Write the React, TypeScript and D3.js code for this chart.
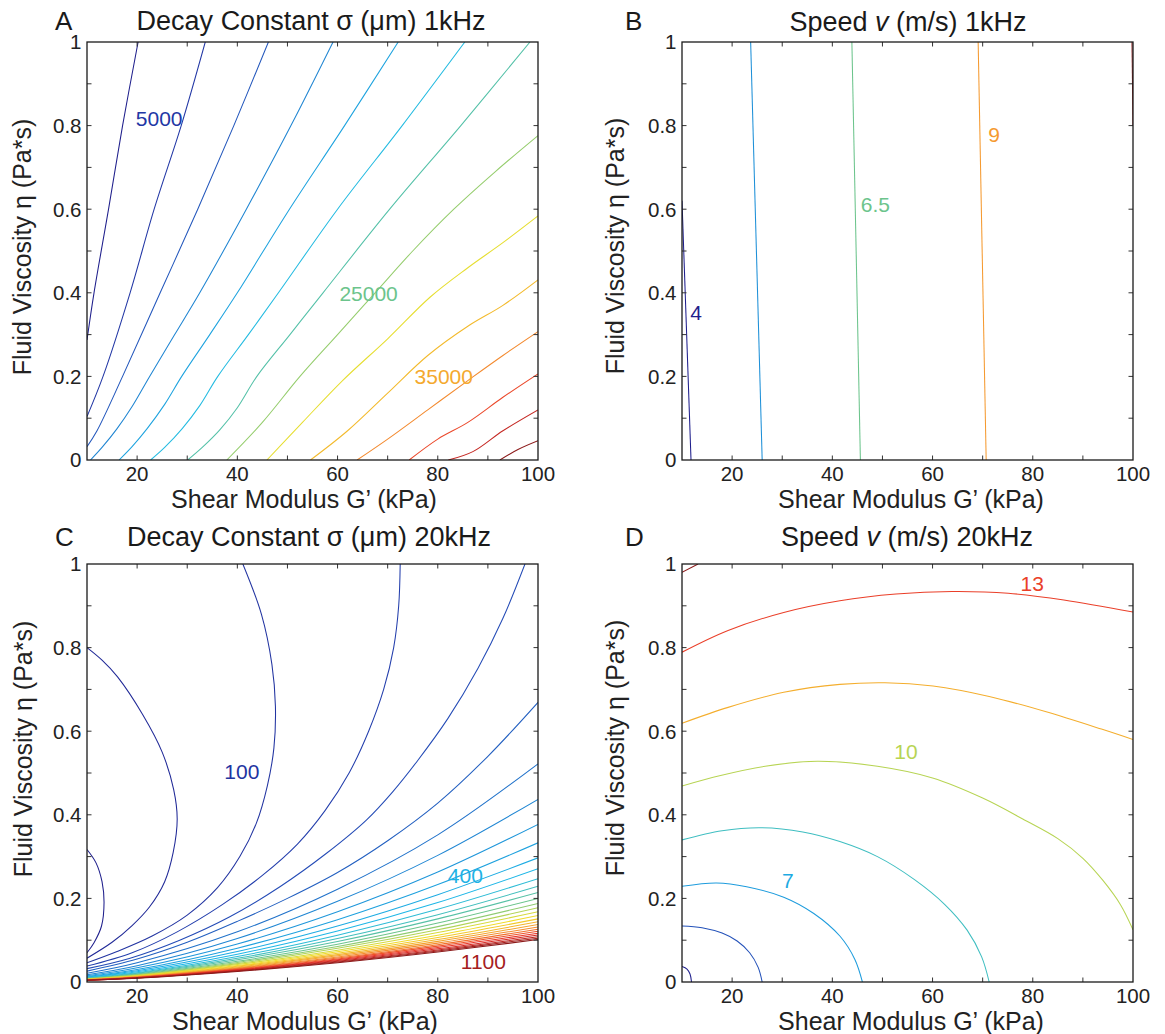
import React from 'react';
import * as d3 from 'd3';

type Pt = [number, number];
type Lbl = { text: string; g: number; eta: number; line: number };

// ---------- axis ticks ----------
const xTickValues = [20, 30, 40, 50, 60, 70, 80, 90];
const xTickLabels = [20, 40, 60, 80, 100];
const yTickValues = [0.1, 0.2, 0.3, 0.4, 0.5, 0.6, 0.7, 0.8, 0.9];
const yTickLabels = [0, 0.2, 0.4, 0.6, 0.8, 1];

// ---------- Panel A : decay constant, 1 kHz (G' kPa, eta Pa*s) ----------
const aLines: Pt[][] = [
  [[10, 0.287], [11.4, 0.4], [14.3, 0.6], [17.1, 0.8], [20.2, 1]],
  [[10, 0.104], [13.2, 0.2], [18.6, 0.4], [23.4, 0.6], [28.8, 0.8], [33.6, 1]],
  [[10, 0.032], [12, 0.07], [17.1, 0.2], [24.6, 0.4], [32.1, 0.6], [39.3, 0.8], [46.2, 1]],
  [[10.7, 0], [13, 0.03], [16, 0.075], [19, 0.128], [22.5, 0.2], [27.5, 0.3], [32.5, 0.4], [41.8, 0.6], [50.7, 0.8], [59.1, 1]],
  [[16.4, 0], [19, 0.032], [22, 0.075], [25.5, 0.133], [28.9, 0.2], [34.5, 0.3], [40, 0.4], [50.4, 0.6], [61.4, 0.8], [72.1, 1]],
  [[22.7, 0], [25.5, 0.03], [29, 0.075], [32.5, 0.13], [36.1, 0.2], [42.2, 0.3], [48.2, 0.4], [60, 0.6], [72.9, 0.8], [85.4, 1]],
  [[30.1, 0], [33, 0.03], [36.5, 0.072], [40, 0.125], [43.9, 0.2], [50.5, 0.3], [57.1, 0.4], [70.4, 0.6], [84.6, 0.8], [98.4, 1]],
  [[37.9, 0], [45, 0.09], [52.5, 0.2], [60, 0.3], [67.5, 0.4], [75, 0.5], [83.2, 0.6], [91.5, 0.69], [100, 0.776]],
  [[45.9, 0], [53, 0.09], [61, 0.19], [70, 0.29], [78.5, 0.39], [86, 0.46], [93, 0.52], [100, 0.584]],
  [[54.6, 0], [62, 0.07], [70, 0.16], [78, 0.25], [86, 0.32], [93, 0.37], [100, 0.431]],
  [[63.9, 0], [70, 0.05], [78, 0.12], [86, 0.19], [93, 0.25], [100, 0.307]],
  [[74.3, 0], [80, 0.05], [86, 0.09], [93, 0.15], [100, 0.206]],
  [[82.1, 0], [87, 0.02], [93, 0.07], [100, 0.12]],
  [[92.4, 0], [96, 0.025], [100, 0.046]],
];
const aLabels: Lbl[] = [
  { text: '5000', g: 24.4, eta: 0.816, line: 1 },
  { text: '25000', g: 66.2, eta: 0.399, line: 6.5 },
  { text: '35000', g: 81.2, eta: 0.201, line: 9.4 },
];

// ---------- Panel B : speed, 1 kHz ----------
const bLines: Pt[][] = [
  [[10, 0.62], [11.8, 0]],
  [[23.7, 1], [26.0, 0]],
  [[43.9, 1], [45.6, 0]],
  [[69.1, 1], [70.7, 0]],
  [[99.8, 1], [100, 0.8]],
];
const bLabels: Lbl[] = [
  { text: '4', g: 12.8, eta: 0.354, line: 0 },
  { text: '6.5', g: 48.6, eta: 0.612, line: 2 },
  { text: '9', g: 72.3, eta: 0.78, line: 3 },
];

// ---------- Panel C : decay constant, 20 kHz ----------
const cCurvedLines: Pt[][] = [
  [[10, 0.317], [11.8, 0.285], [13.0, 0.24], [13.4, 0.19], [12.9, 0.134], [11.4, 0.094], [10, 0.07]],
  [[10, 0.8], [13, 0.77], [16.1, 0.73], [21.1, 0.64], [25, 0.55], [27.3, 0.46], [28, 0.39], [27.2, 0.31], [25.5, 0.24], [22.5, 0.18], [19, 0.135], [15, 0.095], [10, 0.057]],
  [[41.1, 1], [44.8, 0.88], [46.9, 0.76], [47.6, 0.66], [47.3, 0.56], [46, 0.47], [43.8, 0.38], [40.5, 0.3], [36, 0.225], [30, 0.16], [23, 0.11], [16, 0.073], [10, 0.046]],
  [[72.5, 1], [72.2, 0.9], [71.2, 0.8], [69.2, 0.7], [66.2, 0.6], [62.3, 0.5], [57.5, 0.41], [52, 0.33], [45, 0.255], [37, 0.185], [28, 0.12], [19, 0.07], [10, 0.038]],
  [[97.4, 1], [93, 0.87], [88, 0.75], [82, 0.63], [76, 0.53], [71, 0.455], [65.8, 0.388], [57.8, 0.308], [48.5, 0.228], [38.5, 0.156], [28.5, 0.1], [18.6, 0.057], [10, 0.032]],
  [[10, 0.026], [20, 0.055], [30, 0.095], [40, 0.145], [50, 0.2], [60, 0.262], [70, 0.338], [80, 0.428], [90, 0.54], [100, 0.669]],
];
const cDenseG = [10, 20, 40, 60, 80, 100];
const cDenseEta: number[][] = [
  [0.021, 0.046, 0.12, 0.222, 0.352, 0.522],
  [0.0175, 0.039, 0.104, 0.193, 0.303, 0.437],
  [0.015, 0.034, 0.091, 0.168, 0.263, 0.377],
  [0.0133, 0.03, 0.081, 0.149, 0.233, 0.333],
  [0.0119, 0.027, 0.073, 0.134, 0.209, 0.297],
  [0.0108, 0.0245, 0.0665, 0.122, 0.19, 0.271],
  [0.0099, 0.0223, 0.061, 0.112, 0.174, 0.247],
  [0.0092, 0.0207, 0.0566, 0.104, 0.161, 0.229],
  [0.0086, 0.0193, 0.053, 0.097, 0.151, 0.214],
  [0.008, 0.018, 0.0495, 0.0905, 0.141, 0.2],
  [0.0075, 0.017, 0.0466, 0.085, 0.1325, 0.188],
  [0.0071, 0.016, 0.044, 0.0805, 0.125, 0.1775],
  [0.0067, 0.0152, 0.0417, 0.0762, 0.1185, 0.168],
  [0.0064, 0.0144, 0.0395, 0.0722, 0.112, 0.159],
  [0.006, 0.0137, 0.0375, 0.0686, 0.1065, 0.151],
  [0.0058, 0.013, 0.0358, 0.0655, 0.1016, 0.144],
  [0.0055, 0.0125, 0.0342, 0.0626, 0.0972, 0.1377],
  [0.0053, 0.012, 0.0328, 0.06, 0.093, 0.1318],
  [0.0051, 0.0115, 0.0315, 0.0575, 0.0893, 0.1264],
  [0.0049, 0.011, 0.0302, 0.0552, 0.0858, 0.1214],
  [0.0047, 0.0106, 0.029, 0.0531, 0.0825, 0.1167],
  [0.0045, 0.0102, 0.028, 0.0512, 0.0795, 0.1125],
  [0.0043, 0.0099, 0.027, 0.0494, 0.0767, 0.1085],
  [0.0042, 0.0095, 0.0261, 0.0477, 0.0742, 0.1049],
  [0.0041, 0.0092, 0.0253, 0.0462, 0.0718, 0.1015],
];
const cLabels: Lbl[] = [
  { text: '100', g: 40.9, eta: 0.504, line: 2 },
  { text: '400', g: 85.5, eta: 0.255, line: 10.5 },
  { text: '1100', g: 89.1, eta: 0.048, line: 29 },
];

// ---------- Panel D : speed, 20 kHz ----------
const dLines: Pt[][] = [
  [[10, 0.037], [11, 0.031], [11.6, 0.019], [11.9, 0]],
  [[10, 0.134], [14, 0.13], [18, 0.117], [21, 0.098], [23.5, 0.07], [25.2, 0.035], [26, 0]],
  [[10, 0.229], [16.9, 0.237], [22.9, 0.228], [30.3, 0.203], [36.3, 0.164], [41.5, 0.11], [44.5, 0.054], [46, 0]],
  [[10, 0.34], [18, 0.362], [25.9, 0.369], [34.1, 0.359], [41.5, 0.336], [49, 0.3], [56.4, 0.245], [62.4, 0.186], [66.9, 0.124], [69.8, 0.06], [71.3, 0]],
  [[10, 0.469], [17.7, 0.494], [26.6, 0.516], [37, 0.528], [49, 0.516], [60, 0.488], [70, 0.44], [78, 0.39], [85, 0.343], [90, 0.296], [94, 0.243], [97.5, 0.185], [100, 0.125]],
  [[10, 0.619], [19.2, 0.657], [30.3, 0.693], [41.5, 0.712], [50.5, 0.716], [60.1, 0.708], [71.3, 0.683], [82.5, 0.647], [93.7, 0.605], [100, 0.58]],
  [[10, 0.789], [19.2, 0.841], [30.3, 0.884], [41.5, 0.912], [52.7, 0.928], [63.9, 0.934], [75.1, 0.93], [86.2, 0.914], [100, 0.885]],
  [[10, 0.98], [13.2, 1]],
];
const dLabels: Lbl[] = [
  { text: '7', g: 31.1, eta: 0.243, line: 2.3 },
  { text: '10', g: 54.7, eta: 0.552, line: 4 },
  { text: '13', g: 79.9, eta: 0.954, line: 6 },
];

// ---------- colour map (jet-like, as printed) ----------
const jetStops = [0, 0.125, 0.25, 0.375, 0.5, 0.625, 0.75, 0.875, 1];
const jetColors = ['#1f1f8c', '#2446b4', '#1e90d8', '#1ebae8', '#6cc48c', '#f0e028', '#f59a30', '#e83028', '#8c1a1a'];
const jet = d3.scaleLinear<string>().domain(jetStops).range(jetColors).interpolate(d3.interpolateRgb);

const FONT = '"Liberation Sans", Arial, Helvetica, sans-serif';

type Frame = { L: number; R: number; T: number; B: number };

interface PanelProps {
  id: string;
  frame: Frame;
  lines: Pt[][];
  labels: Lbl[];
  denom: number;
  title: React.ReactNode;
  titleX: number;
  titleY: number;
  letter: string;
  letterX: number;
  letterY: number;
  yLabelX: number;
  yLabelY: number;
  xLabelX: number;
  xLabelY: number;
}

function Panel(p: PanelProps) {
  const { L, R, T, B } = p.frame;
  const x = d3.scaleLinear().domain([10, 100]).range([L, R]);
  const y = d3.scaleLinear().domain([0, 1]).range([B, T]);
  const line = d3
    .line<Pt>()
    .x((d) => x(d[0]))
    .y((d) => y(d[1]))
    .curve(d3.curveCatmullRom.alpha(0.5));
  const color = (i: number) => jet(Math.min(1, i / p.denom));
  const tickLen = 4.5;
  const tickColor = '#333';
  return (
    <g>
      <defs>
        <clipPath id={`clip-${p.id}`}>
          <rect x={L} y={T} width={R - L} height={B - T} />
        </clipPath>
      </defs>
      <rect x={L} y={T} width={R - L} height={B - T} fill="#fff" />
      <g clipPath={`url(#clip-${p.id})`}>
        {p.lines.map((ln, i) => (
          <path key={i} d={line(ln) || ''} fill="none" stroke={color(i)} strokeWidth={1.05} />
        ))}
      </g>
      {p.labels.map((lb, i) => (
        <text
          key={i}
          x={x(lb.g)}
          y={y(lb.eta)}
          dy="0.36em"
          textAnchor="middle"
          fontFamily={FONT}
          fontSize={21}
          fill={color(lb.line)}
        >
          {lb.text}
        </text>
      ))}
      {xTickValues.map((v) => (
        <g key={`xt${v}`}>
          <line x1={x(v)} x2={x(v)} y1={B} y2={B - tickLen} stroke={tickColor} strokeWidth={1} />
          <line x1={x(v)} x2={x(v)} y1={T} y2={T + tickLen} stroke={tickColor} strokeWidth={1} />
        </g>
      ))}
      {yTickValues.map((v) => (
        <g key={`yt${v}`}>
          <line x1={L} x2={L + tickLen} y1={y(v)} y2={y(v)} stroke={tickColor} strokeWidth={1} />
          <line x1={R} x2={R - tickLen} y1={y(v)} y2={y(v)} stroke={tickColor} strokeWidth={1} />
        </g>
      ))}
      <rect x={L} y={T} width={R - L} height={B - T} fill="none" stroke="#1a1a1a" strokeWidth={1.3} />
      {xTickLabels.map((v) => (
        <text key={`xl${v}`} x={x(v)} y={B + 20.5} textAnchor="middle" fontFamily={FONT} fontSize={20.5} fill="#222">
          {v}
        </text>
      ))}
      {yTickLabels.map((v) => (
        <text key={`yl${v}`} x={L - 5.5} y={y(v) + 7.3} textAnchor="end" fontFamily={FONT} fontSize={20.5} fill="#222">
          {String(v)}
        </text>
      ))}
      <text x={p.titleX} y={p.titleY} textAnchor="middle" fontFamily={FONT} fontSize={27} fill="#1a1a1a">
        {p.title}
      </text>
      <text x={p.letterX} y={p.letterY} fontFamily={FONT} fontSize={26} fill="#1a1a1a">
        {p.letter}
      </text>
      <text x={p.xLabelX} y={p.xLabelY} textAnchor="middle" fontFamily={FONT} fontSize={25} fill="#222">
        Shear Modulus G’ (kPa)
      </text>
      <text
        transform={`translate(${p.yLabelX},${p.yLabelY}) rotate(-90)`}
        textAnchor="middle"
        fontFamily={FONT}
        fontSize={25}
        fill="#222"
      >
        Fluid Viscosity η (Pa*s)
      </text>
    </g>
  );
}

export default function App() {
  const cLines: Pt[][] = [
    ...cCurvedLines,
    ...cDenseEta.map((row) => row.map((e, j) => [cDenseG[j], e] as Pt)),
  ];
  const frameA: Frame = { L: 87, R: 538, T: 42, B: 460 };
  const frameB: Frame = { L: 682, R: 1133, T: 42, B: 460 };
  const frameC: Frame = { L: 87, R: 538, T: 564, B: 982 };
  const frameD: Frame = { L: 682, R: 1133, T: 564, B: 982 };
  return (
    <svg
      width={1165}
      height={1034}
      viewBox="0 0 1165 1034"
      style={{ position: 'absolute', left: 0, top: 0, background: '#fff' }}
    >
      <rect x={0} y={0} width={1165} height={1034} fill="#fff" />
      <Panel
        id="a"
        frame={frameA}
        lines={aLines}
        labels={aLabels}
        denom={13}
        title={<>Decay Constant σ (μm) 1kHz</>}
        titleX={311}
        titleY={30}
        letter="A"
        letterX={55}
        letterY={29.5}
        yLabelX={31}
        yLabelY={247}
        xLabelX={304}
        xLabelY={507.5}
      />
      <Panel
        id="b"
        frame={frameB}
        lines={bLines}
        labels={bLabels}
        denom={4}
        title={
          <>
            <tspan>Speed </tspan>
            <tspan fontStyle="italic">v</tspan>
            <tspan> (m/s) 1kHz</tspan>
          </>
        }
        titleX={908}
        titleY={31}
        letter="B"
        letterX={625}
        letterY={29.5}
        yLabelX={624}
        yLabelY={246}
        xLabelX={911}
        xLabelY={507.5}
      />
      <Panel
        id="c"
        frame={frameC}
        lines={cLines}
        labels={cLabels}
        denom={30}
        title={<>Decay Constant σ (μm) 20kHz</>}
        titleX={309}
        titleY={546}
        letter="C"
        letterX={55}
        letterY={546}
        yLabelX={32}
        yLabelY={749}
        xLabelX={305}
        xLabelY={1029.5}
      />
      <Panel
        id="d"
        frame={frameD}
        lines={dLines}
        labels={dLabels}
        denom={7}
        title={
          <>
            <tspan>Speed </tspan>
            <tspan fontStyle="italic">v</tspan>
            <tspan> (m/s) 20kHz</tspan>
          </>
        }
        titleX={907}
        titleY={546}
        letter="D"
        letterX={625}
        letterY={546}
        yLabelX={624}
        yLabelY={748}
        xLabelX={911}
        xLabelY={1029.5}
      />
    </svg>
  );
}
